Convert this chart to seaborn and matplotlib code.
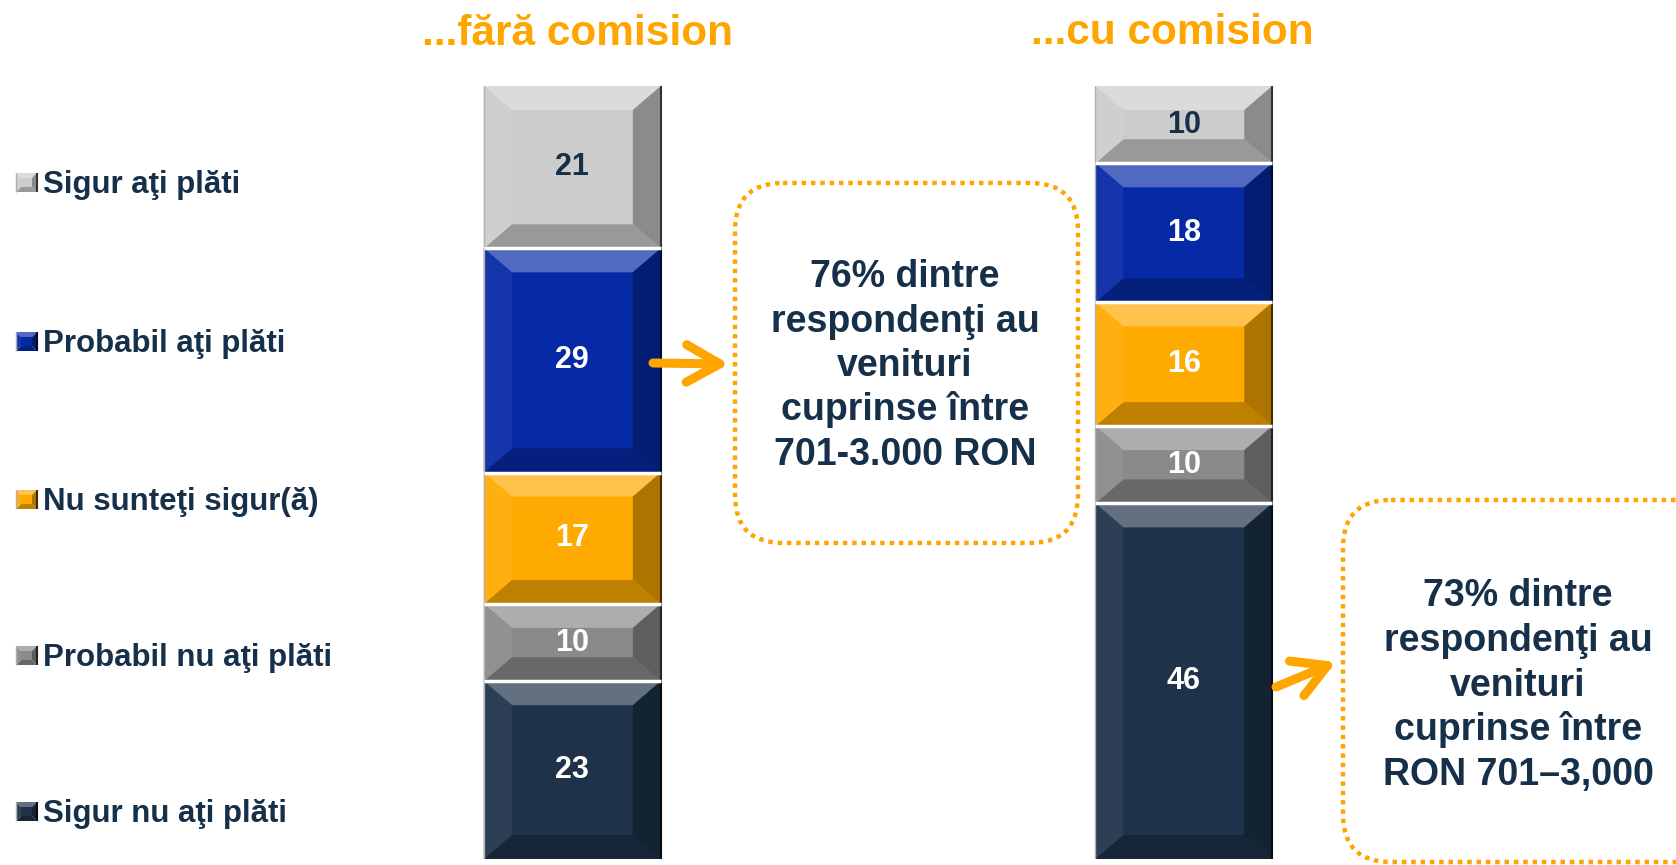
import numpy as np
import pandas as pd
import matplotlib.pyplot as plt
import seaborn as sns
from matplotlib.patches import Polygon, FancyBboxPatch
from matplotlib.colors import to_rgb

# data (stack order: bottom -> top)
groups = ["...fără comision", "...cu comision"]
answers = ["Sigur nu aţi plăti", "Probabil nu aţi plăti", "Nu sunteţi sigur(ă)",
           "Probabil aţi plăti", "Sigur aţi plăti"]
fara_comision = [23, 10, 17, 29, 21]
cu_comision = [46, 10, 16, 18, 10]
note_left = ["76% dintre", "respondenţi au", "venituri", "cuprinse între", "701-3.000 RON"]
note_right = ["73% dintre", "respondenţi au", "venituri", "cuprinse între", "RON 701–3,000"]

colors = ["#1E3349", "#8A8A8A", "#FFAA00", "#0629A6", "#CCCCCC"]
label_colors = ["white", "white", "white", "white", "#17304A"]
orange = "#FFA500"
navy = "#17304A"

df = pd.DataFrame({
    "group": np.repeat(groups, len(answers)),
    "answer": answers * 2,
    "value": fara_comision + cu_comision,
})
df["top"] = df.groupby("group")["value"].cumsum()
df["bottom"] = df["top"] - df["value"]

sns.set_style("white")
plt.rcParams["font.family"] = ["Liberation Sans", "DejaVu Sans"]
plt.rcParams["font.weight"] = "bold"

W, H = 1676, 865
fig = plt.figure(figsize=(W / 100, H / 100), dpi=100)
ax = fig.add_axes([0, 6 / H, 1, 773 / H])


def shade(color, f):
    c = np.array(to_rgb(color))
    out = c + (1 - c) * f if f > 0 else c * (1 + f)
    return tuple(np.clip(out, 0, 1))


def bevel(axis, x0, x1, y_top, y_bot, dx, dy, color, z=3, face=False):
    s = 1 if y_bot > y_top else -1
    it, ib = y_top + s * dy, y_bot - s * dy
    ix0, ix1 = x0 + dx, x1 - dx
    faces = [
        ([(x0, y_top), (x1, y_top), (ix1, it), (ix0, it)], shade(color, 0.3)),
        ([(x0, y_bot), (x1, y_bot), (ix1, ib), (ix0, ib)], shade(color, -0.25)),
        ([(x0, y_top), (ix0, it), (ix0, ib), (x0, y_bot)], shade(color, 0.06)),
        ([(x1, y_top), (ix1, it), (ix1, ib), (x1, y_bot)], shade(color, -0.32)),
    ]
    if face:
        faces.append(([(ix0, it), (ix1, it), (ix1, ib), (ix0, ib)], to_rgb(color)))
    for pts, col in faces:
        axis.add_patch(Polygon(pts, closed=True, facecolor=col, edgecolor="none", zorder=z))
    # thin dark rim on the right, light rim on the left
    axis.plot([x1, x1], [y_top, y_bot], color=shade(color, -0.75), lw=1.5, zorder=z + 0.1,
              solid_capstyle="butt")
    axis.plot([x0, x0], [y_top, y_bot], color="#B0B0B0", lw=1.0, zorder=z + 0.1,
              solid_capstyle="butt")


# stacked bars: draw cumulative totals from the top segment down
seg_patches = {}
for i in reversed(range(len(answers))):
    sub = df[df["answer"] == answers[i]]
    n0 = len(ax.patches)
    sns.barplot(data=sub, x="group", y="top", order=groups, color=colors[i],
                saturation=1, width=0.2895, linewidth=0, errorbar=None, ax=ax)
    seg_patches[i] = ax.patches[n0:]

xmin, xmax = -0.936, 1.805
ax.set_xlim(xmin, xmax)
ax.set_ylim(0, 100)
ax.axis("off")

dx = 28 * (xmax - xmin) / W
dy = 24 * 100 / 773
for i in range(len(answers)):
    for j, p in enumerate(seg_patches[i]):
        x0 = p.get_x()
        x1 = x0 + p.get_width()
        top = p.get_height()
        val = df[(df["group"] == groups[j]) & (df["answer"] == answers[i])]["value"].iloc[0]
        bot = top - val
        bevel(ax, x0, x1, top, bot, dx, min(dy, val * 0.32), colors[i])
        if bot > 0:
            ax.hlines(bot, x0, x1, color="white", lw=2.5, zorder=4)
        ax.text((x0 + x1) / 2, (top + bot) / 2, str(val), ha="center", va="center",
                fontsize=22, fontweight="bold", color=label_colors[i], zorder=5)

# overlay in pixel coordinates for titles, legend and callouts
ov = fig.add_axes([0, 0, 1, 1], zorder=2)
ov.set_xlim(0, W)
ov.set_ylim(H, 0)
ov.axis("off")

for g, x, yb in zip(groups, [577, 1172], [45, 44]):
    ov.text(x, yb, g, ha="center", va="baseline", fontsize=30.5, fontweight="bold", color=orange)

legend_base = [822, 666, 510, 352, 193]
for i, yb in enumerate(legend_base):
    bevel(ov, 16, 37, yb - 20, yb - 1, 5, 5, colors[i], z=3, face=True)
    ov.text(43, yb, answers[i], ha="left", va="baseline", fontsize=22.5,
            fontweight="bold", color=navy)

for (bx, by, bw, bh) in [(735, 183, 343, 360), (1343, 500, 400, 362)]:
    ov.add_patch(FancyBboxPatch((bx, by), bw, bh, boxstyle="round,pad=0,rounding_size=48",
                                fill=False, edgecolor=orange, lw=3.2,
                                linestyle=(0, (1, 1.1))))

for lines, cx, y0, step in [(note_left, 905, 287, 44.5), (note_right, 1518, 606, 44.75)]:
    for k, line in enumerate(lines):
        ov.text(cx, y0 + k * step, line, ha="center", va="baseline", fontsize=27,
                fontweight="bold", color=navy)

arrow_kw = dict(arrowstyle="->,head_length=0.8,head_width=0.45", color=orange, lw=6.5,
                mutation_scale=30, shrinkA=0, shrinkB=0, capstyle="round", joinstyle="round")
ov.annotate("", xy=(729, 364), xytext=(653, 363), arrowprops=arrow_kw)
ov.annotate("", xy=(1336, 662), xytext=(1276, 687), arrowprops=arrow_kw)

fig.savefig("out.png", dpi=100)
